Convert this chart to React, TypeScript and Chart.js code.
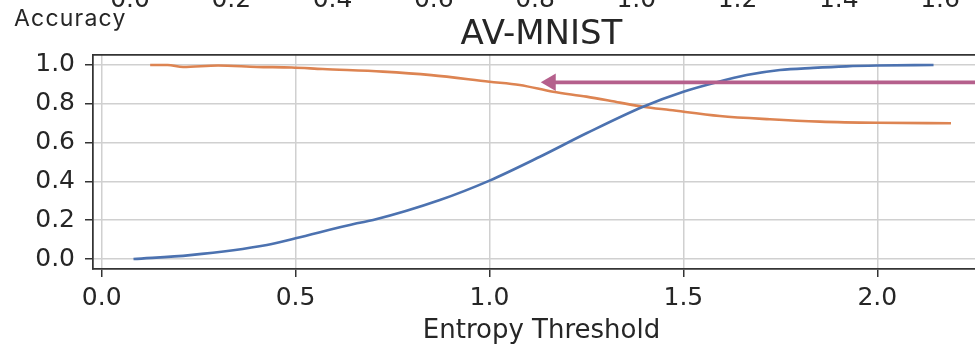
import React, { useEffect, useRef } from "react";
import { Chart, registerables } from "chart.js";

Chart.register(...registerables);

// ---- data ----
const TITLE = "AV-MNIST";
const X_TITLE = "Entropy Threshold";
const Y_CAPTION = "Accuracy";

const X_TICKS = [0, 0.5, 1.0, 1.5, 2.0];
const Y_TICKS = [0, 0.2, 0.4, 0.6, 0.8, 1.0];
const TOP_TICKS = [0, 0.2, 0.4, 0.6, 0.8, 1.0, 1.2, 1.4, 1.6];

const BLUE_X = [0.082, 0.228, 0.426, 0.5, 0.658, 0.7, 0.872, 1.0, 1.13, 1.25, 1.396, 1.5, 1.586, 1.663, 1.749, 1.835, 1.92, 2.0, 2.145];
const BLUE_Y = [0.0, 0.02, 0.072, 0.107, 0.184, 0.201, 0.304, 0.404, 0.527, 0.648, 0.785, 0.862, 0.911, 0.948, 0.974, 0.985, 0.993, 0.997, 1.0];

const ORANGE_X = [0.125, 0.17, 0.21, 0.3, 0.4, 0.49, 0.57, 0.725, 0.85, 1.0, 1.078, 1.164, 1.25, 1.336, 1.396, 1.465, 1.594, 1.723, 1.852, 2.0, 2.19];
const ORANGE_Y = [1.0, 1.0, 0.99, 0.997, 0.99, 0.987, 0.979, 0.966, 0.948, 0.914, 0.897, 0.862, 0.837, 0.806, 0.785, 0.768, 0.737, 0.72, 0.708, 0.702, 0.7];

const ARROW_X = [1.16, 2.4];
const ARROW_Y = 0.911;
const ARROW_HEAD_X = 1.158;

// axis limits
const X_MIN = -0.0224;
const X_MAX = 2.2906;
const Y_MIN = -0.0515;
const Y_MAX = 1.0515;
const TOP_MIN = -0.2568;
const TOP_MAX = 1.6691;

// ---- styles ----
const FONT = "DejaVu Sans";
const TEXT = "#262626";
const SPINE = "#333333";
const GRID = "#d0d0d0";
const BLUE = "#4c72b0";
const ORANGE = "#dd8452";
const ARROW = "#b5608c";

const fixTicks = (vals: number[]) => (s: any) => {
  s.ticks = vals.map((v) => ({ value: v }));
};
const noPadH = (h: number) => (s: any) => {
  s.height = h;
  s.paddingLeft = 0;
  s.paddingRight = 0;
};
const fmt = (v: any) => Number(v).toFixed(1);

export default function App() {
  const ref = useRef<HTMLCanvasElement | null>(null);
  const topRef = useRef<HTMLCanvasElement | null>(null);

  useEffect(() => {
    if (!ref.current || !topRef.current) return;
    const pts = (xs: number[], ys: number[]) => xs.map((x, i) => ({ x, y: ys[i] }));

    // cropped tick labels of the panel above
    const topChart = new Chart(topRef.current, {
      type: "line",
      data: { datasets: [] },
      options: {
        animation: false,
        responsive: false,
        maintainAspectRatio: false,
        devicePixelRatio: 1,
        layout: { padding: 0, autoPadding: false },
        plugins: { legend: { display: false }, tooltip: { enabled: false } },
        scales: {
          x: {
            type: "linear",
            position: "bottom",
            min: TOP_MIN,
            max: TOP_MAX,
            grid: { display: false, drawTicks: false },
            border: { display: false },
            ticks: {
              color: TEXT,
              font: { family: FONT, size: 25, lineHeight: 1 },
              padding: 6.4,
              maxRotation: 0,
              autoSkip: false,
              callback: fmt,
            },
            afterBuildTicks: fixTicks(TOP_TICKS),
            afterFit: noPadH(30),
          },
          y: { display: false },
        },
      } as any,
    });

    const chart = new Chart(ref.current, {
      type: "line",
      data: {
        datasets: [
          {
            data: [{ x: ARROW_HEAD_X, y: ARROW_Y }],
            xAxisID: "x",
            yAxisID: "y",
            showLine: false,
            pointStyle: "triangle",
            rotation: 270,
            pointRadius: 10,
            pointBackgroundColor: ARROW,
            pointBorderWidth: 0,
            borderColor: ARROW,
          },
          {
            data: ARROW_X.map((x) => ({ x, y: ARROW_Y })),
            xAxisID: "x",
            yAxisID: "y",
            borderColor: ARROW,
            borderWidth: 3.75,
            pointRadius: 0,
          },
          {
            data: pts(BLUE_X, BLUE_Y),
            xAxisID: "x",
            yAxisID: "y",
            borderColor: BLUE,
            borderWidth: 2.6,
            pointRadius: 0,
            cubicInterpolationMode: "monotone",
          },
          {
            data: pts(ORANGE_X, ORANGE_Y),
            xAxisID: "x",
            yAxisID: "y",
            borderColor: ORANGE,
            borderWidth: 2.6,
            pointRadius: 0,
            cubicInterpolationMode: "monotone",
          },
        ],
      },
      options: {
        animation: false,
        responsive: false,
        maintainAspectRatio: false,
        devicePixelRatio: 1,
        layout: { padding: 0, autoPadding: false },
        plugins: {
          legend: { display: false },
          tooltip: { enabled: false },
          title: {
            display: true,
            fullSize: false,
            text: TITLE,
            color: TEXT,
            font: { family: FONT, size: 34, weight: "normal", lineHeight: 1 },
            padding: { top: 18.3, bottom: 2.7 },
          },
        },
        scales: {
          xSpine: {
            type: "linear",
            position: "top",
            min: 0,
            max: 1,
            grid: { display: false, drawTicks: false },
            ticks: { display: false },
            border: { display: true, color: SPINE, width: 1.75 },
            afterFit: noPadH(0),
          },
          x: {
            type: "linear",
            position: "bottom",
            min: X_MIN,
            max: X_MAX,
            grid: { color: GRID, lineWidth: 1.5, tickColor: SPINE, tickLength: 8, tickWidth: 1.5 },
            border: { color: SPINE, width: 1.75 },
            ticks: {
              color: TEXT,
              font: { family: FONT, size: 25, lineHeight: 1 },
              padding: 9,
              maxRotation: 0,
              autoSkip: false,
              callback: fmt,
            },
            afterBuildTicks: fixTicks(X_TICKS),
            title: {
              display: true,
              text: X_TITLE,
              color: TEXT,
              font: { family: FONT, size: 26, lineHeight: 1 },
              padding: { top: 0, bottom: 4 },
            },
            afterFit: noPadH(79),
          },
          y: {
            type: "linear",
            position: "left",
            min: Y_MIN,
            max: Y_MAX,
            grid: { color: GRID, lineWidth: 1.5, tickColor: SPINE, tickLength: 8, tickWidth: 1.5 },
            border: { color: SPINE, width: 1.75 },
            ticks: {
              color: TEXT,
              font: { family: FONT, size: 25, lineHeight: 1 },
              padding: 10,
              autoSkip: false,
              callback: fmt,
            },
            afterBuildTicks: fixTicks(Y_TICKS),
            afterFit: (s: any) => {
              s.width = 93;
              s.paddingTop = 0;
              s.paddingBottom = 0;
            },
          },
        },
      } as any,
    });
    return () => {
      chart.destroy();
      topChart.destroy();
    };
  }, []);

  return (
    <div
      style={{
        position: "fixed",
        left: 0,
        top: 0,
        width: 975,
        height: 348,
        overflow: "hidden",
        background: "#ffffff",
      }}
    >
      <canvas
        ref={ref}
        width={990}
        height={348}
        style={{ position: "absolute", left: 0, top: 0, width: 990, height: 348 }}
      />
      <canvas
        ref={topRef}
        width={975}
        height={60}
        style={{ position: "absolute", left: 0, top: -48, width: 975, height: 60 }}
      />
      <div
        style={{
          position: "absolute",
          left: 14,
          top: 7,
          fontFamily: "Inter",
          fontSize: 23,
          lineHeight: "23px",
          letterSpacing: "1.2px",
          color: TEXT,
          whiteSpace: "nowrap",
        }}
      >
        {Y_CAPTION}
      </div>
    </div>
  );
}
